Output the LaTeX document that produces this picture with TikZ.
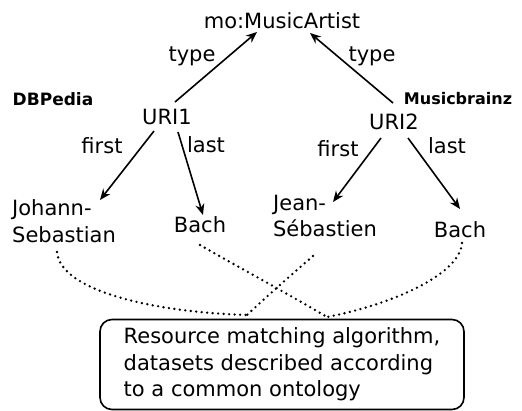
\documentclass[tikz,border=0pt]{standalone}
\usepackage{fontspec}
\setmainfont{DejaVu Sans}
\usetikzlibrary{arrows.meta}
\begin{document}
\begin{tikzpicture}[x=1pt,y=-1pt,
  lbl/.style={inner sep=0pt, font=\fontsize{21}{26.5}\selectfont},
  src/.style={inner sep=0pt, font=\fontsize{16.3}{18}\selectfont\bfseries},
  rel/.style={line width=1.6pt, -{Stealth[length=11pt,width=9pt]}},
  match/.style={line width=2.6pt, line cap=round, dash pattern=on 0pt off 5.5pt},
  algbox/.style={draw, line width=1.6pt, rounded corners=12pt, minimum width=364pt,
    minimum height=90pt, align=left, inner sep=0pt, font=\fontsize{21}{26.5}\selectfont}]
\useasboundingbox (0,0) rectangle (522,411);
% nodes
\node[lbl] (mo) at (282,21) {mo:MusicArtist};
\node[lbl] (typeL) at (192,56) {type};
\node[lbl] (typeR) at (372,56) {type};
\node[src, font=\fontsize{17}{18}\selectfont\bfseries] (dbp) at (53,99) {DBPedia};
\node[src, font=\fontsize{16}{18}\selectfont\bfseries] (mb) at (458,99) {Musicbrainz};
\node[lbl] (uri1) at (167,117) {URI1};
\node[lbl] (uri2) at (394,122) {URI2};
\node[lbl] (firstL) at (102,146) {first};
\node[lbl] (lastL) at (206,145) {last};
\node[lbl] (firstR) at (338,149) {first};
\node[lbl] (lastR) at (447,146) {last};
\node[lbl, align=left] (js) at (64,221) {Johann-\\Sebastian};
\node[lbl] (bach1) at (200,225) {Bach};
\node[lbl, align=left] (jean) at (325,216) {Jean-\\Sébastien};
\node[lbl] (bach2) at (460,230) {Bach};
\node[algbox] (box) at (282,364.5) {Resource matching algorithm,\\datasets described according\\to a common ontology};
\coordinate (m1) at (247,315);
\coordinate (m2) at (327,317);
% arrows
\draw[rel] ([shift={(8,-15)}]uri1.center) -- ([shift={(-25,11)}]mo.center);
\draw[rel] ([shift={(-1,-19)}]uri2.center) -- ([shift={(28,12)}]mo.center);
\draw[rel] ([shift={(-13,14)}]uri1.center) -- ([shift={(36,-21)}]js.center);
\draw[rel] ([shift={(11,15)}]uri1.center) -- ([shift={(3,-10)}]bach1.center);
\draw[rel] ([shift={(-13,16)}]uri2.center) -- ([shift={(8,-14)}]jean.center);
\draw[rel] ([shift={(14,16)}]uri2.center) -- ([shift={(0,-21)}]bach2.center);
% dotted matches
\draw[match] ([shift={(-7,31)}]js.center) .. controls (60,290) and (150,312) .. (m1);
\draw[match] ([shift={(-12,40)}]jean.center) .. controls (290,276) and (265,298) .. (m1);
\draw[match] ([shift={(0,20)}]bach1.center) .. controls (240,268) and (290,295) .. (m2);
\draw[match] ([shift={(2,13)}]bach2.center) .. controls (460,275) and (390,305) .. (m2);
\end{tikzpicture}
\end{document}
